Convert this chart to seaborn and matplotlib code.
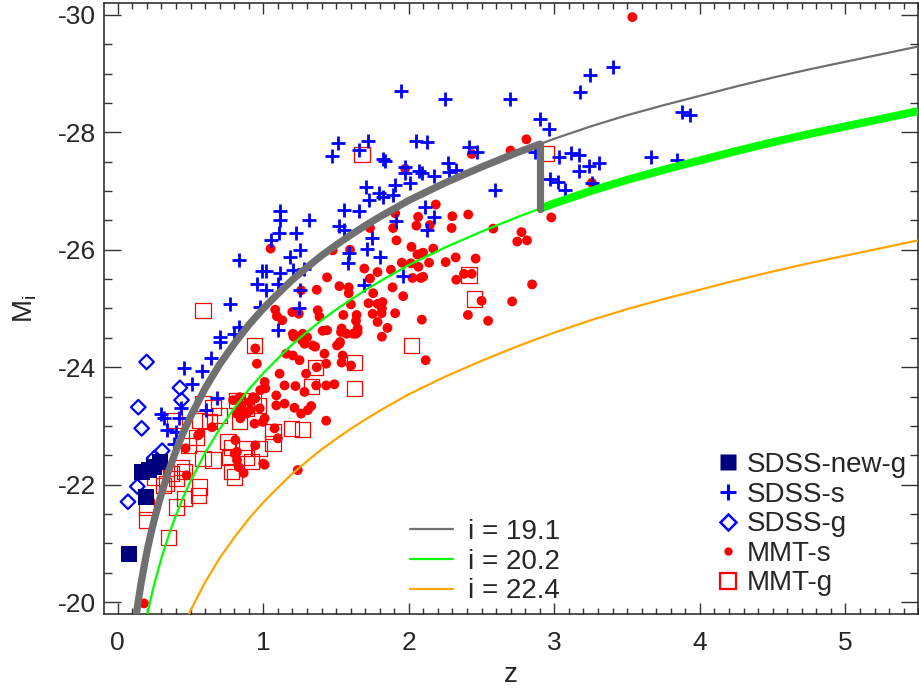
import numpy as np
import pandas as pd
import matplotlib
matplotlib.use("Agg")
import matplotlib.pyplot as plt
from matplotlib.lines import Line2D
from matplotlib.ticker import MultipleLocator
import seaborn as sns

# ---------------------------------------------------------------- data
# SDSS spectroscopic quasars (redshift, absolute i magnitude)
sdss_s_z = [0.831, 0.956, 0.99, 0.769, 0.979, 0.831, 0.705, 0.797, 1.945, 2.247,
            2.694, 2.904, 2.96, 1.516, 1.47, 1.721, 1.655, 1.82, 1.838, 2.052,
            2.127, 2.413, 2.47, 2.87, 2.271, 1.975, 1.975, 2.07, 2.093, 2.173,
            2.007, 2.276, 2.589, 1.705, 1.906, 1.792, 1.824, 1.728, 1.888, 2.112,
            2.173, 2.123, 1.557, 1.66, 1.112, 1.112, 1.317, 1.105, 1.055, 1.226,
            1.523, 1.557, 1.915, 1.744, 1.712, 1.801, 1.249, 1.185, 1.591, 1.58,
            1.016, 1.112, 1.203, 1.283, 1.02, 1.10, 1.249, 1.689, 1.961, 1.244,
            1.10, 0.70, 0.641, 0.454, 0.58, 0.511, 0.294, 0.317, 0.42, 0.431,
            0.34, 0.603, 0.682, 0.397, 0.386, 3.247, 3.178, 3.406, 3.874, 3.932,
            3.034, 3.116, 3.171, 3.171, 3.24, 3.308, 3.664, 3.84, 2.973, 3.025,
            3.075, 3.258, 2.326]
sdss_s_m = [-25.83, -25.42, -25.64, -25.07, -25.03, -24.69, -24.51, -24.57, -28.70, -28.56,
            -28.56, -28.23, -28.06, -27.81, -27.60, -27.85, -27.69, -27.55, -27.51, -27.85,
            -27.83, -27.75, -27.66, -27.66, -27.48, -27.41, -27.30, -27.34, -27.31, -27.26,
            -27.14, -27.32, -27.02, -27.06, -27.11, -26.96, -26.90, -26.84, -26.94, -26.73,
            -26.56, -26.34, -26.68, -26.66, -26.66, -26.50, -26.50, -26.29, -26.17, -26.29,
            -26.40, -26.34, -26.49, -26.20, -26.02, -25.88, -25.99, -25.88, -25.94, -25.77,
            -25.64, -25.60, -25.65, -25.68, -25.31, -25.42, -25.32, -25.40, -25.55, -25.00,
            -24.63, -24.43, -24.15, -23.98, -23.94, -23.71, -23.21, -23.13, -23.14, -23.30,
            -22.93, -23.27, -23.47, -22.90, -22.70, -28.97, -28.69, -29.11, -28.35, -28.29,
            -27.58, -27.64, -27.61, -27.34, -27.43, -27.48, -27.58, -27.52, -27.20, -27.15,
            -27.01, -27.13, -27.35]

# SDSS galaxy-dominated objects
sdss_g_z = [0.198, 0.141, 0.164, 0.427, 0.438, 0.305, 0.249, 0.134, 0.07]
sdss_g_m = [-24.09, -23.32, -22.96, -23.65, -23.44, -22.58, -22.45, -21.97, -21.71]

# new SDSS galaxy-dominated objects
sdss_new_z = [0.077, 0.169, 0.215, 0.249, 0.29, 0.192]
sdss_new_m = [-20.82, -22.22, -22.25, -22.30, -22.39, -21.79]

# MMT spectroscopic quasars
mmt_s_z = [2.808, 2.699, 2.432, 1.975, 2.185, 2.408, 2.299, 2.064, 1.906, 1.892,
           2.052, 2.294, 2.58, 2.979, 2.774, 2.745, 2.812, 1.733, 1.915, 1.05,
           1.596, 1.477, 2.018, 2.059, 2.093, 2.168, 2.139, 2.066, 2.014, 2.253,
           2.322, 2.459, 2.379, 2.432, 2.326, 2.847, 2.025, 2.082, 1.438, 1.523,
           1.587, 1.587, 1.694, 1.733, 1.785, 1.877, 1.888, 1.952, 1.961, 1.755,
           1.367, 1.26, 1.723, 1.785, 1.819, 1.815, 1.751, 1.906, 1.785, 1.853,
           1.815, 2.089, 2.406, 2.545, 2.71, 1.538, 1.637, 1.648, 1.637, 1.55,
           1.573, 1.527, 1.507, 1.374, 1.386, 1.438, 1.21, 1.271, 1.301, 1.199,
           1.244, 1.082, 1.093, 1.13, 1.602, 1.641, 1.813, 2.5, 2.144, 2.098,
           2.098, 3.536, 3.258, 1.203, 1.408, 1.618,
           0.945, 0.956, 0.979, 0.997, 1.0, 0.945, 0.842, 0.842, 0.648, 0.552,
           0.466, 0.473, 0.819, 0.819, 0.831, 0.865, 0.808, 0.945, 0.819, 0.911,
           0.18, 1.112, 1.158, 1.203, 1.249, 1.283, 1.34, 1.42, 1.432, 1.523,
           1.545, 1.603, 2.116, 1.294, 1.363, 1.432, 1.488, 1.221, 1.146, 1.283,
           1.009, 0.929, 0.906, 0.975, 1.089, 1.089, 1.146, 1.214, 1.26, 1.306,
           1.329, 1.009, 0.94, 1.432, 1.077, 1.1, 1.009, 0.803, 0.564, 0.884,
           0.792, 0.838, 0.86, 1.237, 1.208, 1.265, 1.356, 1.534, 1.648, 1.538,
           1.367, 1.014]
mmt_s_m = [-27.88, -27.69, -27.63, -27.38, -26.77, -26.60, -26.57, -26.56, -26.62, -26.37,
           -26.41, -26.37, -26.36, -26.55, -26.30, -26.14, -26.16, -26.37, -26.16, -26.02,
           -26.00, -25.99, -26.05, -25.92, -25.94, -26.02, -25.78, -25.71, -25.77, -25.79,
           -25.87, -25.85, -25.59, -25.59, -25.49, -25.41, -25.52, -25.52, -25.53, -25.38,
           -25.36, -25.26, -25.68, -25.51, -25.62, -25.66, -25.36, -25.78, -25.21, -25.26,
           -25.32, -25.31, -25.09, -25.08, -25.11, -25.00, -24.91, -24.92, -24.77, -24.67,
           -24.52, -24.81, -24.89, -24.79, -25.12, -24.66, -24.79, -24.66, -24.57, -24.89,
           -24.57, -24.43, -24.37, -24.97, -24.86, -24.63, -24.55, -24.57, -24.51, -24.94,
           -24.91, -24.98, -24.87, -24.80, -25.07, -24.89, -24.92, -25.13, -26.42, -25.95,
           -25.54, -29.96, -27.14, -24.57, -24.62, -24.57,
           -24.32, -24.06, -23.61, -23.07, -22.36, -23.47, -23.35, -23.13, -22.98, -22.84,
           -22.62, -22.16, -22.56, -22.42, -22.30, -22.20, -22.76, -22.67, -23.21, -23.27,
           -19.98, -23.89, -24.23, -24.20, -24.12, -24.40, -24.37, -24.23, -24.06, -24.40,
           -24.20, -24.03, -24.12, -23.89, -23.69, -23.69, -23.71, -23.68, -23.69, -23.58,
           -23.75, -23.49, -23.41, -23.30, -23.52, -23.35, -23.38, -23.31, -23.21, -23.27,
           -23.34, -23.13, -23.04, -23.09, -22.96, -22.79, -22.34, -22.53, -22.87, -23.21,
           -23.44, -23.49, -23.27, -22.25, -24.52, -24.46, -24.35, -24.60, -24.60, -24.08,
           -24.00, -23.64]

# MMT galaxy-dominated objects
mmt_g_z = [0.586, 1.678, 2.413, 2.452, 2.02, 0.94, 2.943, 1.625, 1.358, 1.625,
           1.329, 1.192, 1.267, 1.066, 1.066, 0.975, 0.963, 0.815, 0.884, 0.838,
           0.758, 0.781, 0.86, 0.884, 0.769, 0.781, 0.803, 0.586, 0.655, 0.632,
           0.564, 0.586, 0.655, 0.70, 0.929, 0.541, 0.484, 0.438, 0.461, 0.37,
           0.336, 0.404, 0.564, 0.552, 0.461, 0.404, 0.198, 0.198, 0.347, 0.255,
           0.312, 0.392, 0.918]
mmt_g_m = [-24.97, -27.62, -25.57, -25.16, -24.37, -24.37, -27.64, -24.08, -24.00, -23.64,
           -23.67, -22.96, -22.94, -22.90, -22.70, -22.62, -23.35, -23.44, -23.30, -23.07,
           -22.73, -22.64, -22.62, -22.47, -22.47, -22.22, -22.13, -22.45, -22.42, -23.07,
           -23.10, -23.38, -23.32, -23.18, -23.44, -22.81, -22.67, -22.30, -22.22, -22.19,
           -22.02, -22.11, -21.96, -21.82, -21.77, -21.62, -21.62, -21.40, -21.10, -22.13,
           -21.99, -23.10, -22.39]

# limiting-magnitude tracks: distance modulus (i - M_i) versus redshift
lim_z = [0.12, 0.13, 0.14, 0.16, 0.18, 0.2, 0.225, 0.25, 0.3, 0.35, 0.4, 0.45,
         0.5, 0.6, 0.7, 0.8, 0.9, 1.0, 1.1, 1.2, 1.3, 1.4, 1.5, 1.6, 1.7, 1.8,
         1.9, 2.0, 2.25, 2.5, 2.75, 3.0, 3.25, 3.5, 3.75, 4.0, 4.25, 4.5, 4.75,
         5.0, 5.25, 5.5]
lim_dm = [38.74, 38.93, 39.11, 39.42, 39.70, 39.96, 40.24, 40.50, 40.95, 41.34,
          41.68, 41.99, 42.26, 42.74, 43.15, 43.50, 43.82, 44.10, 44.35, 44.59,
          44.80, 45.00, 45.18, 45.35, 45.51, 45.66, 45.80, 45.94, 46.24, 46.51,
          46.76, 46.99, 47.20, 47.39, 47.56, 47.72, 47.88, 48.03, 48.17, 48.30,
          48.43, 48.56]
i_limits = [19.1, 20.2, 22.4]
lim_labels = ["i = 19.1", "i = 20.2", "i = 22.4"]
z_switch = 2.9

# ---------------------------------------------------------------- style
sns.set_style("ticks")
plt.rcParams["font.family"] = ["Liberation Sans", "DejaVu Sans"]
plt.rcParams["mathtext.fontset"] = "custom"
plt.rcParams["mathtext.rm"] = "Liberation Sans"
plt.rcParams["mathtext.it"] = "Liberation Sans"
plt.rcParams["axes.unicode_minus"] = False

GRAY = "#707070"
GREEN = "#00ff00"
ORANGE = "#ffa500"
BLUE = "#0000ff"
NAVY = "#00007f"
RED = "#ff0000"

fig = plt.figure(figsize=(9.2, 6.88), dpi=100)
ax = fig.add_axes([0.113, 0.1076, 0.885, 0.888])

# ---------------------------------------------------------------- points
df_mmt_s = pd.DataFrame({"z": mmt_s_z, "M": mmt_s_m})
df_mmt_g = pd.DataFrame({"z": mmt_g_z, "M": mmt_g_m})
df_sdss_s = pd.DataFrame({"z": sdss_s_z, "M": sdss_s_m})
df_sdss_g = pd.DataFrame({"z": sdss_g_z, "M": sdss_g_m})
df_sdss_new = pd.DataFrame({"z": sdss_new_z, "M": sdss_new_m})

sns.scatterplot(data=df_mmt_s, x="z", y="M", ax=ax, marker="o", s=50,
                color=RED, edgecolor="none", zorder=2)
sns.scatterplot(data=df_mmt_g, x="z", y="M", ax=ax, marker="s", s=120,
                facecolors="none", edgecolor=RED, linewidth=0.9, zorder=2)
sns.scatterplot(data=df_sdss_s, x="z", y="M", ax=ax, marker="+", s=100,
                color=BLUE, linewidth=2.0, zorder=3)
sns.scatterplot(data=df_sdss_g, x="z", y="M", ax=ax, marker="D", s=55,
                facecolors="none", edgecolor=BLUE, linewidth=1.6, zorder=3)
sns.scatterplot(data=df_sdss_new, x="z", y="M", ax=ax, marker="s", s=135,
                color=NAVY, edgecolor="none", zorder=4)

# ---------------------------------------------------------------- tracks
lim = pd.DataFrame({"z": lim_z, "dm": lim_dm})
colors = [GRAY, GREEN, ORANGE]
for ilim, col in zip(i_limits, colors):
    lim[f"M{ilim}"] = ilim - lim["dm"]
    sns.lineplot(data=lim, x="z", y=f"M{ilim}", ax=ax, color=col, lw=1.6,
                 sort=False, estimator=None, zorder=5)

# selection boundary: bright limit below z_switch, fainter limit above it
dm_sw = float(np.interp(z_switch, lim_z, lim_dm))
low = pd.concat([lim[lim["z"] < z_switch][["z", "dm"]],
                 pd.DataFrame({"z": [z_switch], "dm": [dm_sw]})])
high = pd.concat([pd.DataFrame({"z": [z_switch], "dm": [dm_sw]}),
                  lim[lim["z"] > z_switch][["z", "dm"]]])
low["M"] = i_limits[0] - low["dm"]
high["M"] = i_limits[1] - high["dm"]
sns.lineplot(data=low, x="z", y="M", ax=ax, color=GRAY, lw=5.2,
             sort=False, estimator=None, zorder=6)
sns.lineplot(data=high, x="z", y="M", ax=ax, color=GREEN, lw=5.8,
             sort=False, estimator=None, zorder=6, solid_capstyle="butt")
jump = pd.DataFrame({"z": [z_switch, z_switch],
                     "M": [i_limits[0] - dm_sw, i_limits[1] - dm_sw]})
sns.lineplot(data=jump, x="z", y="M", ax=ax, color=GRAY, lw=5.2,
             sort=False, estimator=None, zorder=6)

# ---------------------------------------------------------------- axes
ax.set_xlim(-0.095, 5.5)
ax.set_ylim(-19.8, -30.2)
ax.xaxis.set_major_locator(MultipleLocator(1))
ax.xaxis.set_minor_locator(MultipleLocator(0.1))
ax.yaxis.set_major_locator(MultipleLocator(2))
ax.yaxis.set_minor_locator(MultipleLocator(0.5))
ax.tick_params(axis="x", which="major", direction="in", top=True, length=8,
               width=1.0, labelsize=19, pad=12, color="#333333")
ax.tick_params(axis="x", which="minor", direction="in", top=True, length=4.3,
               width=1.0, color="#333333")
ax.tick_params(axis="y", which="major", direction="in", right=True, length=12,
               width=1.0, labelsize=19, pad=6, color="#333333")
ax.tick_params(axis="y", which="minor", direction="in", right=True, length=6,
               width=1.0, color="#333333")
for sp in ax.spines.values():
    sp.set_visible(True)
    sp.set_linewidth(1.1)
    sp.set_color("#222222")

ax.set_xlabel("z", fontsize=20, labelpad=5)
ax.set_ylabel(r"M$_\mathrm{i}$", fontsize=20, labelpad=13)

# ---------------------------------------------------------------- legends
line_handles = [Line2D([], [], color=c, lw=1.6) for c in colors]
leg1 = ax.legend(line_handles, lim_labels, loc="upper left",
                 bbox_to_anchor=(410 / 920, 1 - 519 / 688),
                 bbox_transform=fig.transFigure, frameon=False, fontsize=20,
                 handlelength=1.55, handletextpad=0.55, labelspacing=0.13,
                 borderpad=0, borderaxespad=0)
ax.add_artist(leg1)

mark_handles = [
    Line2D([], [], ls="none", marker="s", ms=11, color=NAVY, mec="none"),
    Line2D([], [], ls="none", marker="+", ms=12, color=BLUE, mew=2.2),
    Line2D([], [], ls="none", marker="D", ms=8, mfc="none", mec=BLUE, mew=1.8),
    Line2D([], [], ls="none", marker="o", ms=6, color=RED, mec="none"),
    Line2D([], [], ls="none", marker="s", ms=11, mfc="none", mec=RED, mew=1.6),
]
mark_labels = ["SDSS-new-g", "SDSS-s", "SDSS-g", "MMT-s", "MMT-g"]
leg2 = ax.legend(mark_handles, mark_labels, loc="upper left",
                 bbox_to_anchor=(720 / 920, 1 - 452 / 688),
                 bbox_transform=fig.transFigure, frameon=False, fontsize=20,
                 handlelength=0.6, handletextpad=0.35, labelspacing=0.13,
                 borderpad=0, borderaxespad=0)

fig.savefig("out.png", dpi=100)
